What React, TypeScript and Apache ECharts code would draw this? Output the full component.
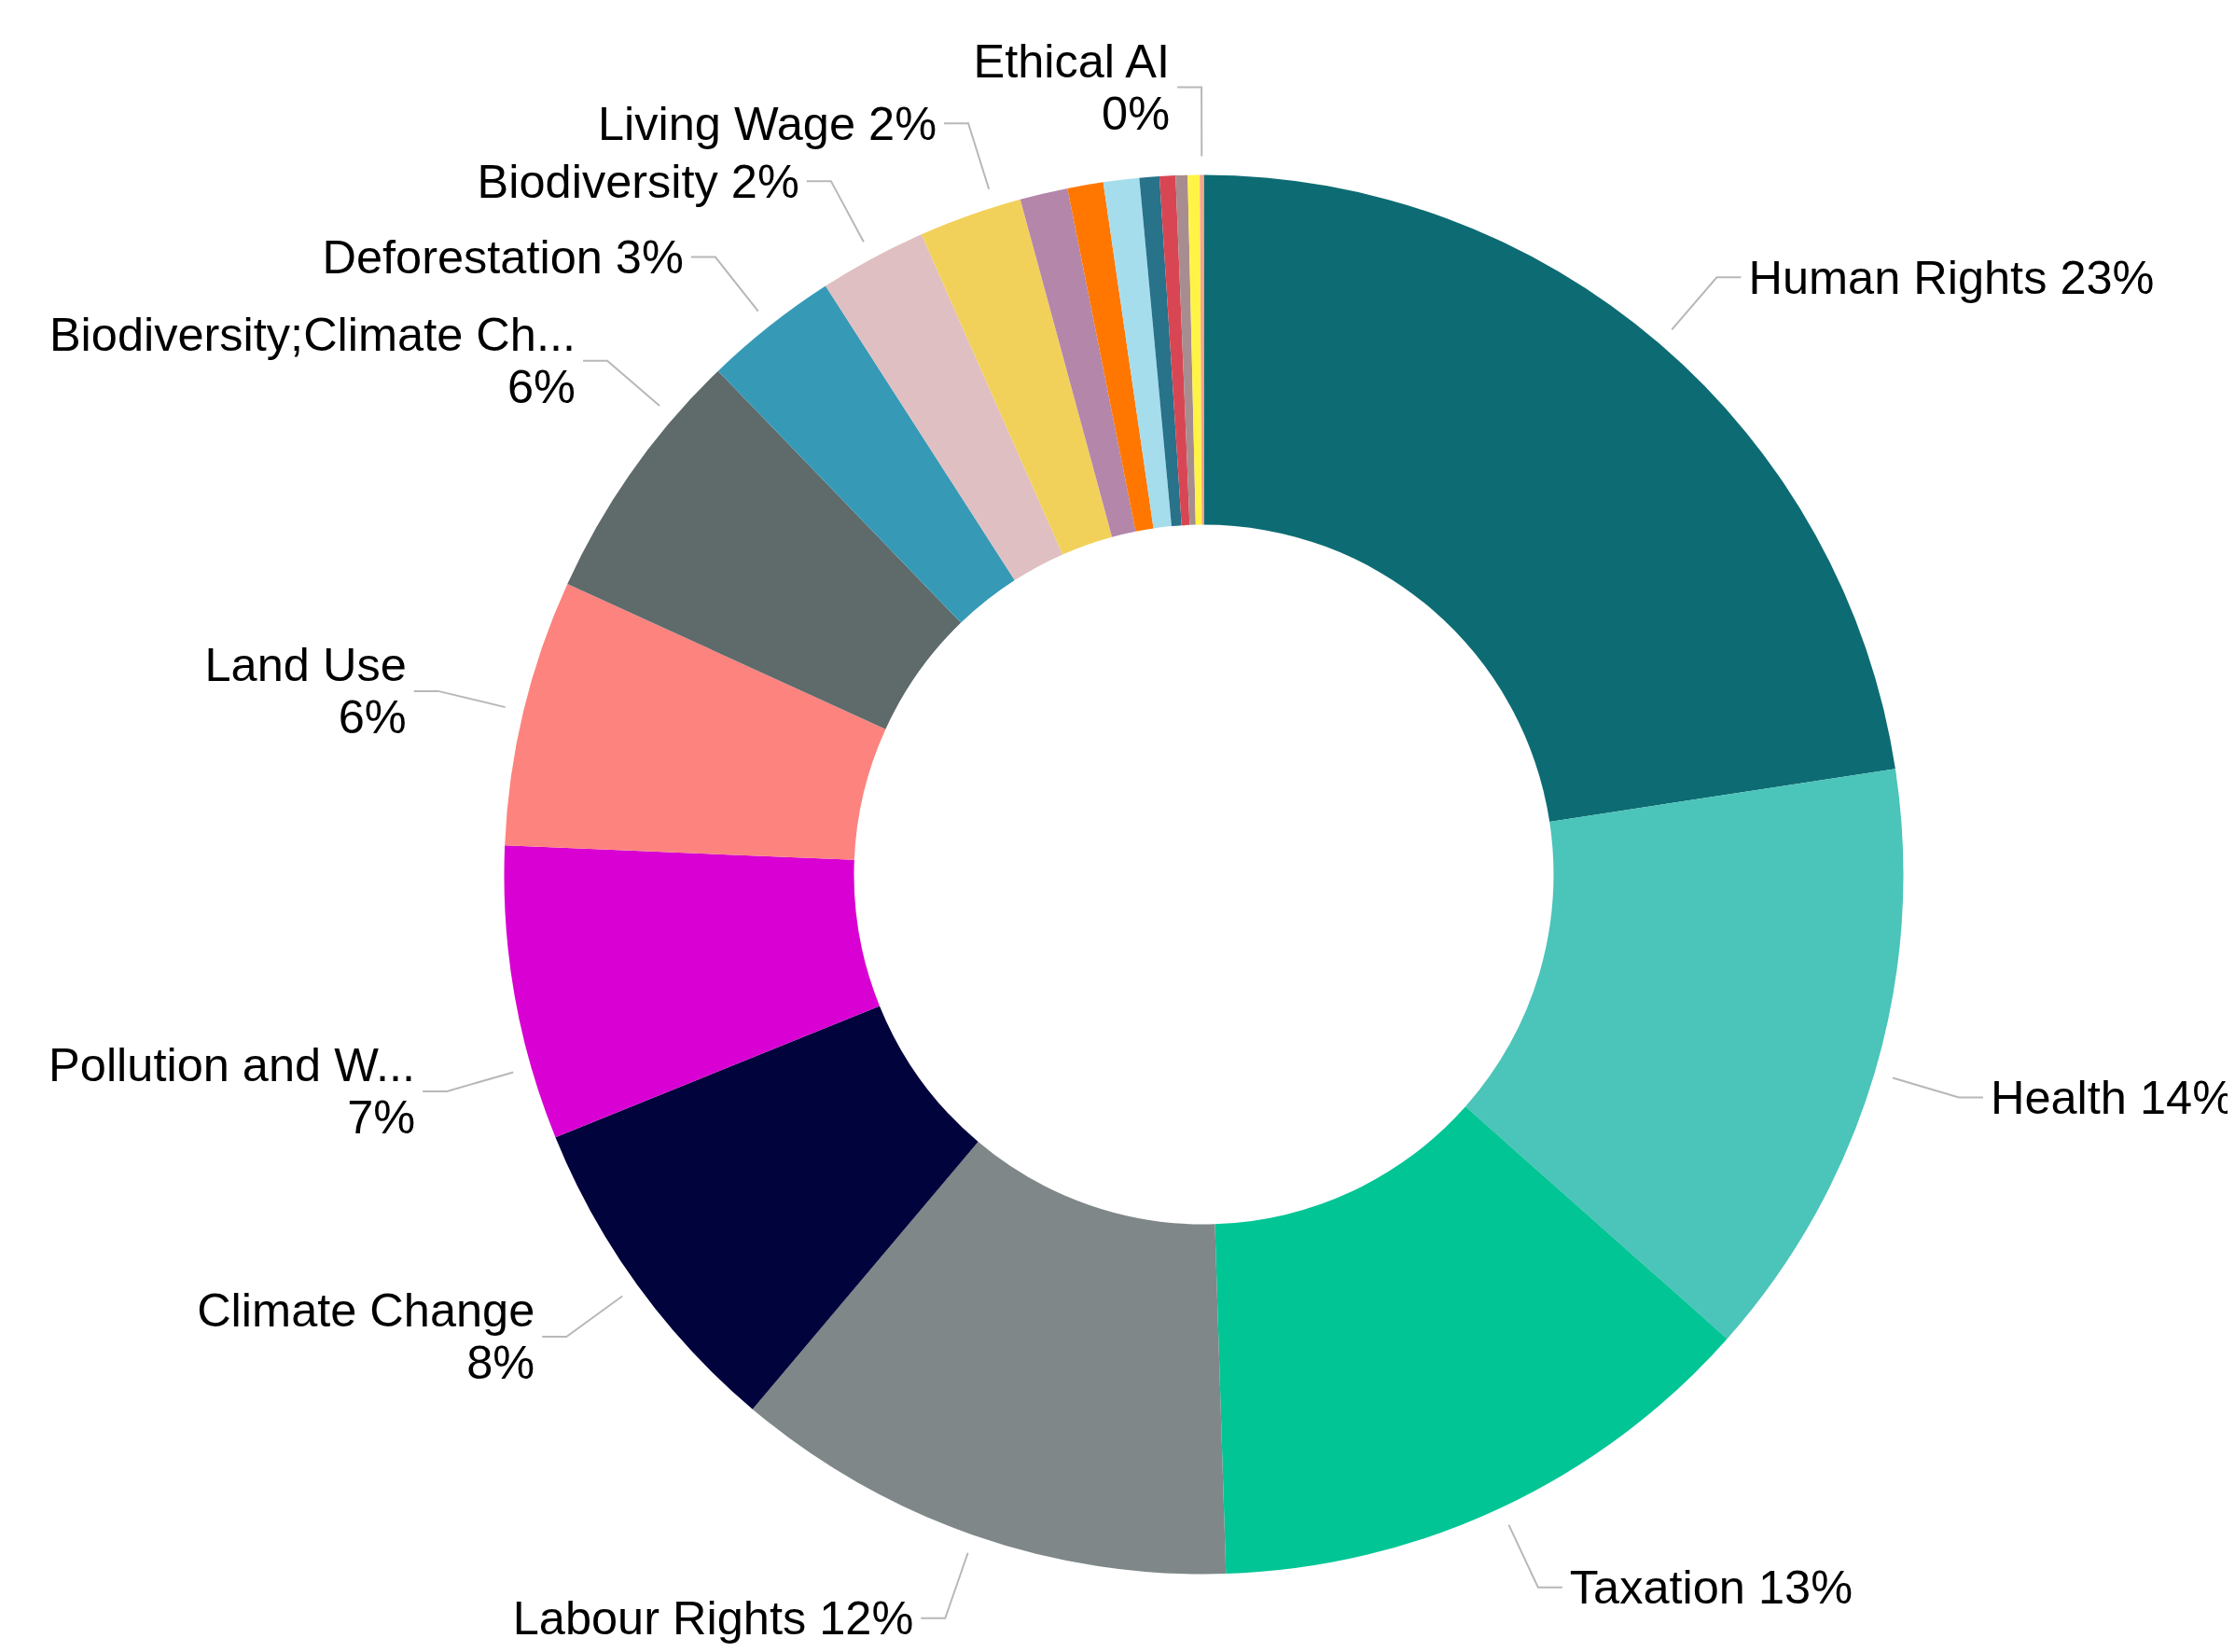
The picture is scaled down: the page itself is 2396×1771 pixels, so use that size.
import React, { useEffect, useRef } from 'react';
import * as echarts from 'echarts';

// Topic names, in clockwise order from 12 o'clock
const categories: string[] = [
  'Human Rights',
  'Health',
  'Taxation',
  'Labour Rights',
  'Climate Change',
  'Pollution and Waste',
  'Land Use',
  'Biodiversity;Climate Change',
  'Deforestation',
  'Biodiversity',
  'Living Wage',
  'Animal Welfare',
  'Water',
  'Gender Equality',
  'Governance',
  'Circular Economy',
  'Supply Chain',
  'Diversity',
  'Ethical AI',
];

// Number of items per topic
const counts: number[] = [246, 152, 141, 127, 84, 74, 67, 65, 34, 27, 26, 12, 9, 9, 5, 4, 3, 3, 1];

// Whether the slice shows a label
const labelShown: boolean[] = [
  true, true, true, true, true, true, true, true, true, true, true,
  false, false, false, false, false, false, false,
  true,
];

// Whether the percentage goes on its own line
const percentOnNewLine: boolean[] = [
  false, false, false, false, true, true, true, true, false, false, false,
  false, false, false, false, false, false, false,
  true,
];

const sliceColors: string[] = [
  '#0d6c73', '#4bc4ba', '#02c595', '#7f8788', '#00033c', '#d800d2', '#fd837f',
  '#5f6a6a', '#369ab7', '#dfbfc1', '#f2d15b', '#b386aa', '#ff7700', '#a6dded',
  '#28728a', '#d84654', '#a78d8f', '#fff445', '#f4a58b',
];

// ---- style constants (not data) ----
const CX = 1282.5;
const CY = 929.5;
const R_IN = 375;
const R_OUT = 750;
const R_LABEL = 770; // label lines start a little outside the ring
const LABEL_DIST = 8;
// label truncation widths
const truncWidth: Record<string, number> = {
  'Pollution and Waste': 405,
  'Biodiversity;Climate Change': 575,
};
// angular nudges (degrees, clockwise on screen) applied to crowded labels
const labelAngleShift: Record<string, number> = {
  'Pollution and Waste': -6.15,
  'Biodiversity;Climate Change': 5.45,
  'Living Wage': 2.1,
};

export default function App() {
  const ref = useRef<HTMLDivElement>(null);
  useEffect(() => {
    if (!ref.current) return;
    const chart = echarts.init(ref.current, undefined, { renderer: 'svg' });

    const ringData = categories.map((name, i) => ({
      name,
      value: counts[i],
      itemStyle: { color: sliceColors[i] },
    }));

    const labelData = categories.map((name, i) => {
      const item: any = { name, value: counts[i] };
      if (!labelShown[i]) {
        item.label = { show: false };
        item.labelLine = { show: false };
      } else if (truncWidth[name]) {
        item.label = { width: truncWidth[name], overflow: 'truncate' };
      }
      return item;
    });

    const rotate = (p: number[], a: number) => {
      const dx = p[0] - CX;
      const dy = p[1] - CY;
      return [CX + dx * Math.cos(a) - dy * Math.sin(a), CY + dx * Math.sin(a) + dy * Math.cos(a)];
    };

    chart.setOption({
      animation: false,
      backgroundColor: '#ffffff',
      series: [
        {
          type: 'pie',
          center: [CX, CY],
          radius: [R_IN, R_OUT],
          startAngle: 90,
          clockwise: true,
          silent: true,
          data: ringData,
          label: { show: false },
          labelLine: { show: false },
          emphasis: { disabled: true },
        },
        {
          type: 'pie',
          center: [CX, CY],
          radius: [R_IN, R_LABEL],
          startAngle: 90,
          clockwise: true,
          silent: true,
          avoidLabelOverlap: false,
          data: labelData,
          itemStyle: { color: 'rgba(0,0,0,0)' },
          label: {
            show: true,
            position: 'outside',
            color: '#000000',
            fontSize: 50.5,
            lineHeight: 56,
            fontFamily: '"Liberation Sans", Arial, sans-serif',
            width: 900,
            overflow: 'truncate',
            distanceToLabelLine: LABEL_DIST,
            formatter: (p: any) => {
              const i = p.dataIndex;
              const pct = Math.round(p.percent) + '%';
              return percentOnNewLine[i] ? p.name + '\n' + pct : p.name + ' ' + pct;
            },
          },
          labelLine: {
            show: true,
            length: 74,
            length2: 26,
            lineStyle: { color: '#b8b8b8', width: 2 },
          },
          labelLayout: (params: any) => {
            const name = categories[params.dataIndex];
            const shift = labelAngleShift[name];
            const pts = params.labelLinePoints;
            if (!shift || !pts || pts.length < 3) return {};
            const a = (shift * Math.PI) / 180;
            const p0 = rotate(pts[0], a);
            const p1 = rotate(pts[1], a);
            const dir = pts[2][0] >= pts[1][0] ? 1 : -1;
            const len2 = Math.abs(pts[2][0] - pts[1][0]);
            const p2 = [p1[0] + dir * len2, p1[1]];
            return {
              x: p2[0] + dir * LABEL_DIST,
              y: p2[1],
              align: dir < 0 ? 'right' : 'left',
              verticalAlign: 'middle',
              labelLinePoints: [p0, p1, p2],
            };
          },
          emphasis: { disabled: true },
        },
      ],
    });
    return () => chart.dispose();
  }, []);
  return <div ref={ref} style={{ width: 2388, height: 1763 }} />;
}
